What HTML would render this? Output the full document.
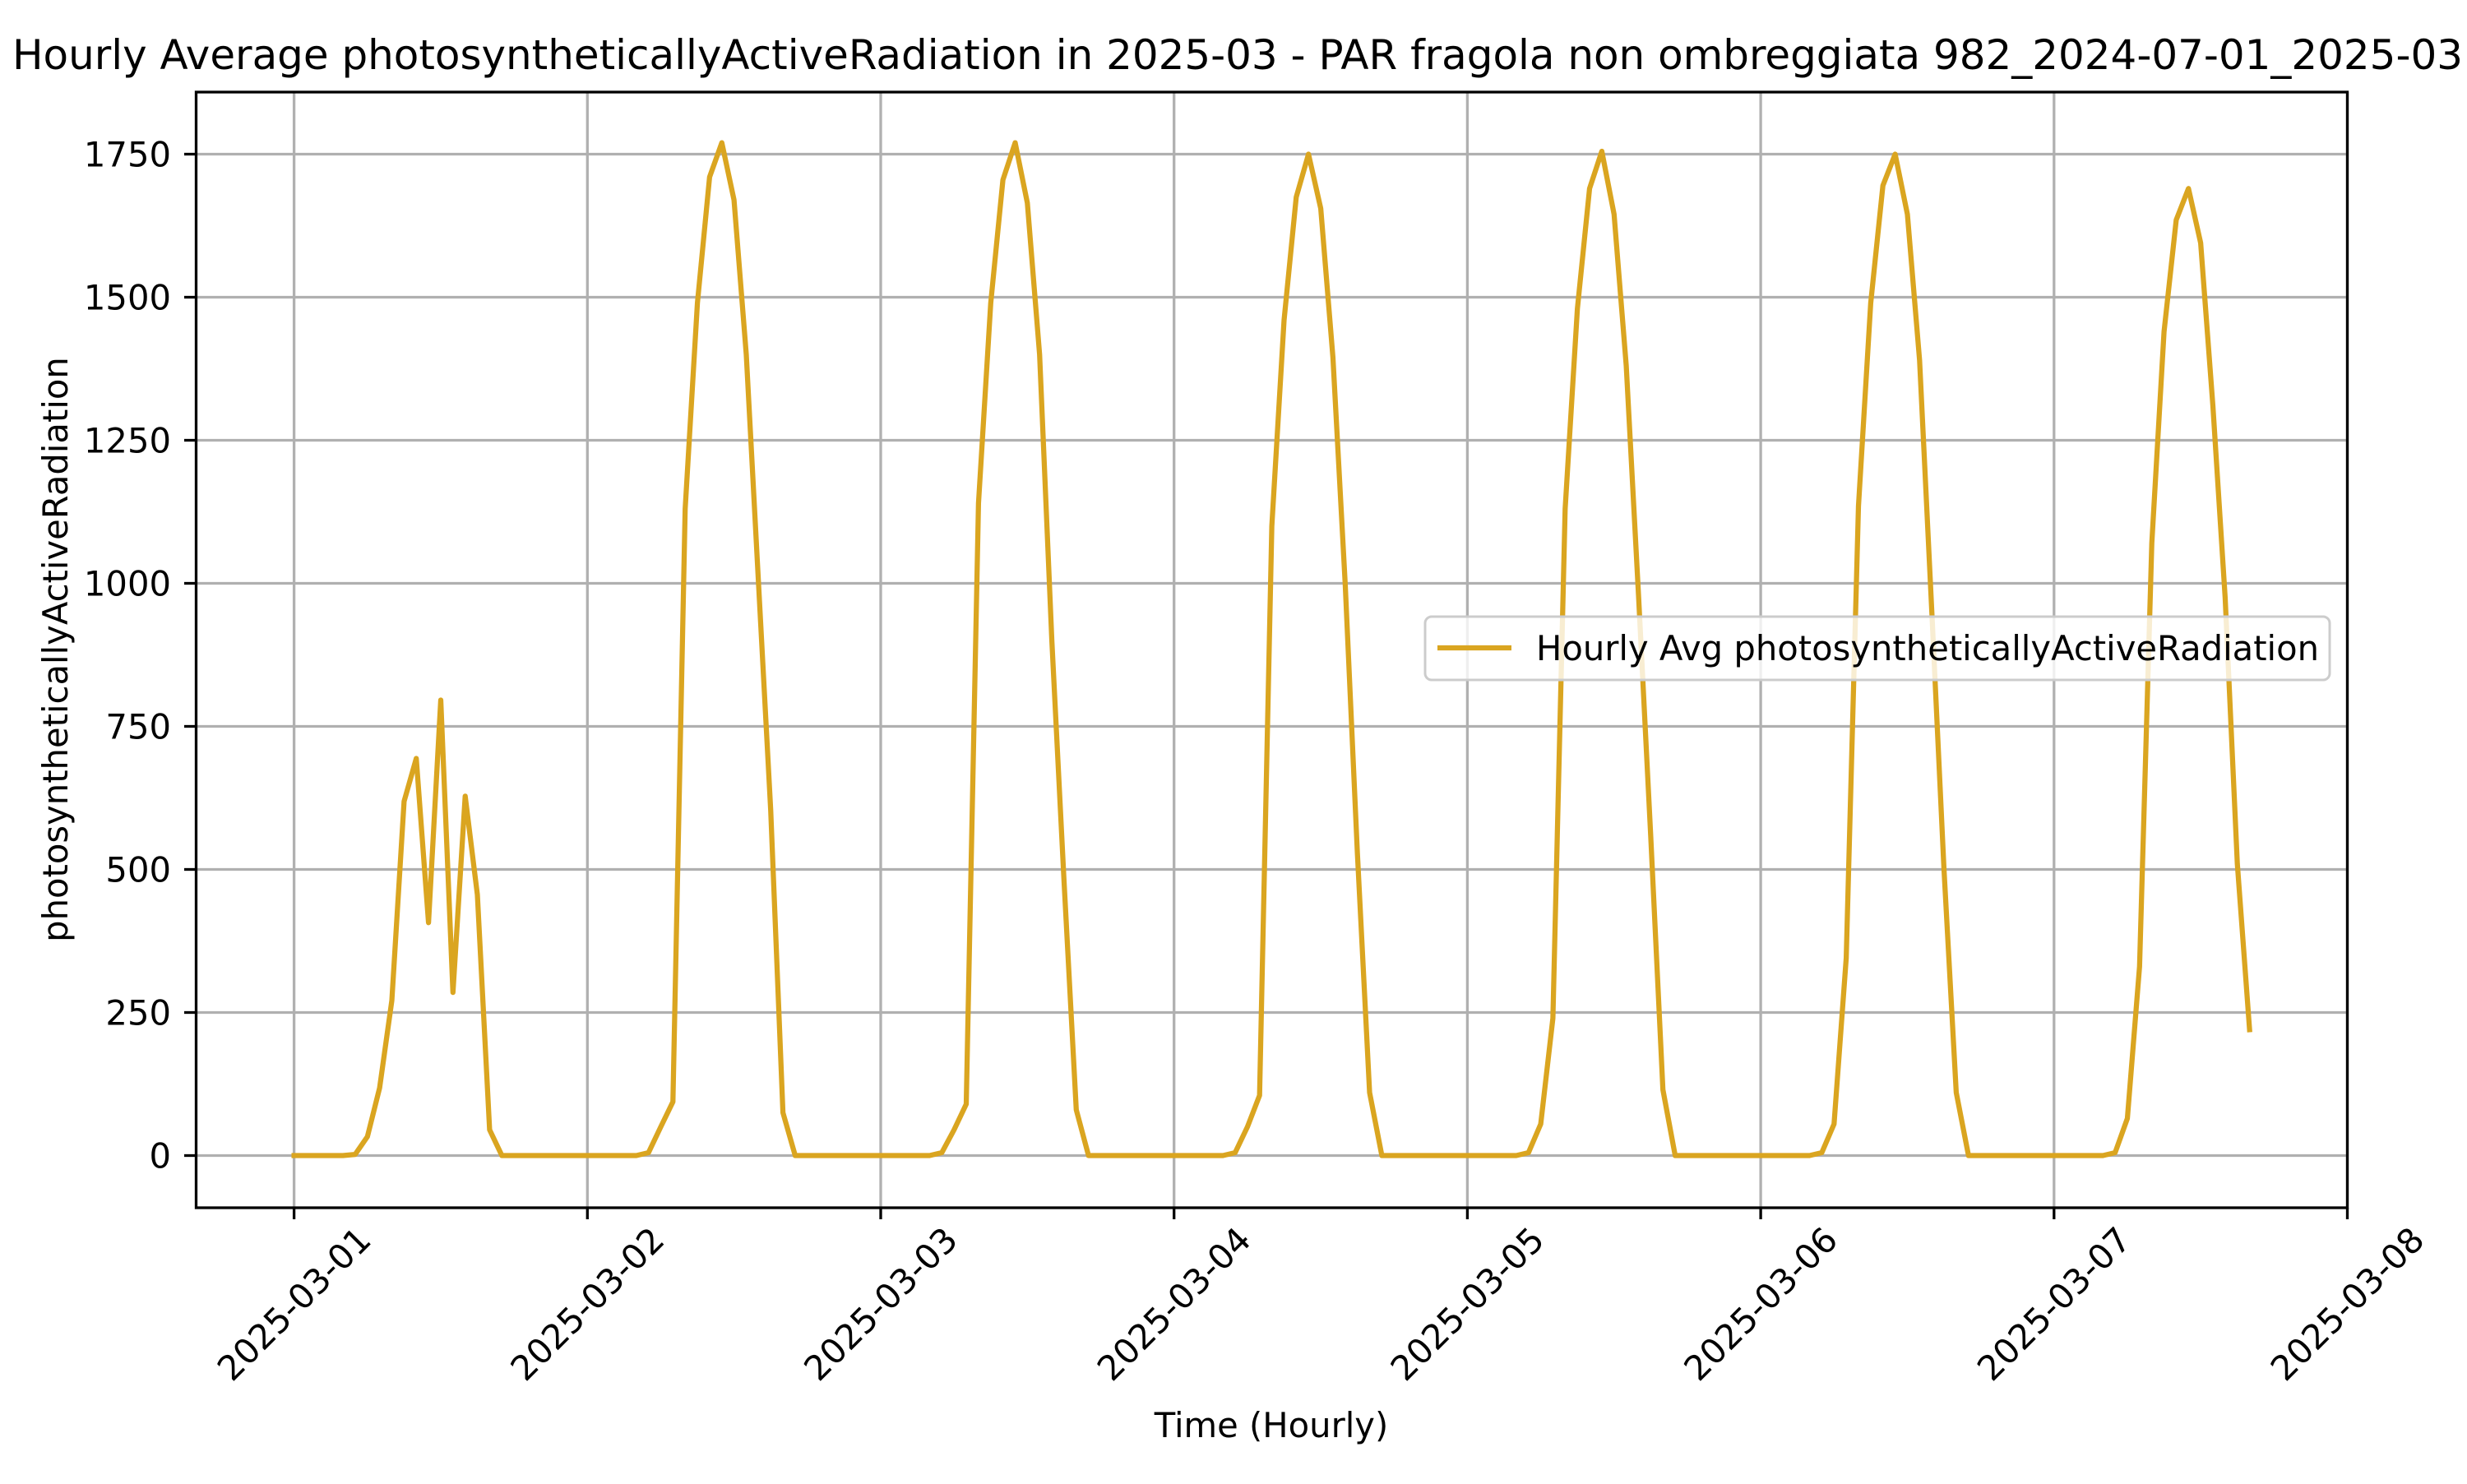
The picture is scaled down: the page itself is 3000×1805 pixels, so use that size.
<!DOCTYPE html>
<html><head><meta charset="utf-8"><style>
html,body{margin:0;padding:0;background:#fff}
svg text{font-family:"DejaVu Sans","Liberation Sans",sans-serif;fill:#000}
</style></head><body>
<svg id="chart" width="3000" height="1800" viewBox="0 0 3000 1800" xmlns="http://www.w3.org/2000/svg">
<rect width="3000" height="1800" fill="#fff"/>
<g id="grid"></g>
<g id="series"></g>
<rect x="238.5" y="112" width="2616" height="1357" fill="none" stroke="#000" stroke-width="3.3"/>
<g id="ticks"></g>
<text x="15" y="84" font-size="50" text-anchor="start" textLength="2980" lengthAdjust="spacingAndGlyphs">Hourly Average photosyntheticallyActiveRadiation in 2025-03 - PAR fragola non ombreggiata 982_2024-07-01_2025-03</text>
<text x="1546" y="1748" font-size="41.7" text-anchor="middle">Time (Hourly)</text>
<text transform="translate(82,790) rotate(-90)" font-size="41.7" text-anchor="middle">photosyntheticallyActiveRadiation</text>
<g>
<rect x="1733" y="750" width="1100" height="77" rx="8" fill="#fff" fill-opacity="0.8" stroke="#ccc" stroke-width="3"/>
<line x1="1748" y1="788" x2="1838" y2="788" stroke="#DAA520" stroke-width="6.25"/>
<text x="1868" y="803" font-size="41.7">Hourly Avg photosyntheticallyActiveRadiation</text>
</g>
</svg>
<script>
const xTickLabels = ["2025-03-01","2025-03-02","2025-03-03","2025-03-04","2025-03-05","2025-03-06","2025-03-07","2025-03-08"];
const yTicks = [0,250,500,750,1000,1250,1500,1750];
const day1 = [0,0,0,0,0,2,33,118,271,619,694,407,796,285,628,456,45,0,0,0,0,0,0,0];
const day2 = [0,0,0,0,0,5,50,94,1130,1490,1710,1770,1670,1400,1000,604,75,0,0,0,0,0,0,0];
const day3 = [0,0,0,0,0,5,45,90,1140,1490,1705,1770,1665,1400,900,480,80,0,0,0,0,0,0,0];
const day4 = [0,0,0,0,0,5,50,105,1100,1460,1675,1750,1655,1395,1000,530,110,0,0,0,0,0,0,0];
const day5 = [0,0,0,0,0,5,55,240,1130,1480,1690,1755,1645,1380,980,560,115,0,0,0,0,0,0,0];
const day6 = [0,0,0,0,0,5,55,345,1135,1490,1695,1750,1645,1390,950,500,110,0,0,0,0,0,0,0];
const day7 = [0,0,0,0,0,5,65,330,1070,1440,1635,1690,1595,1310,975,510,220];
const values = [].concat(day1,day2,day3,day4,day5,day6,day7);

const NS="http://www.w3.org/2000/svg";
const X0=357.6, DAY=356.7;
const xScale = h => X0 + h*DAY/24;
const yScale = v => 1405.5 - v*0.696;
const grid=document.getElementById('grid'), ticks=document.getElementById('ticks'), series=document.getElementById('series');
function mk(tag, attrs, parent){const e=document.createElementNS(NS,tag);for(const k in attrs)e.setAttribute(k,attrs[k]);parent.appendChild(e);return e;}

xTickLabels.forEach((lab,i)=>{
  const x=xScale(i*24);
  const g=mk('line',{x1:x,y1:112,x2:x,y2:1469,stroke:'#b0b0b0','stroke-width':3.3},grid);
  
  
  const t=mk('line',{x1:x,y1:1469,x2:x,y2:1483,stroke:'#000','stroke-width':3.3},ticks);
  
  
  const tx=mk('text',{transform:`translate(${x},1586) rotate(-45)`,'font-size':41.7,'text-anchor':'middle','dominant-baseline':'central'},ticks);
  tx.textContent=lab;
  
  
});
yTicks.forEach(v=>{
  const y=yScale(v);
  const g=mk('line',{x1:238.5,y1:y,x2:2854.5,y2:y,stroke:'#b0b0b0','stroke-width':3.3},grid);
  
  
  const t=mk('line',{x1:224,y1:y,x2:238.5,y2:y,stroke:'#000','stroke-width':3.3},ticks);
  
  
  const tx=mk('text',{x:208,y:y+15,'font-size':41.7,'text-anchor':'end'},ticks);
  tx.textContent=v;
  
  
});
const pts=values.map((v,i)=>xScale(i).toFixed(1)+','+yScale(v).toFixed(1)).join(' ');
const line=mk('polyline',{points:pts,fill:'none',stroke:'#DAA520','stroke-width':6.25,'stroke-linejoin':'round','stroke-linecap':'square'},series);


</script>
</body></html>
